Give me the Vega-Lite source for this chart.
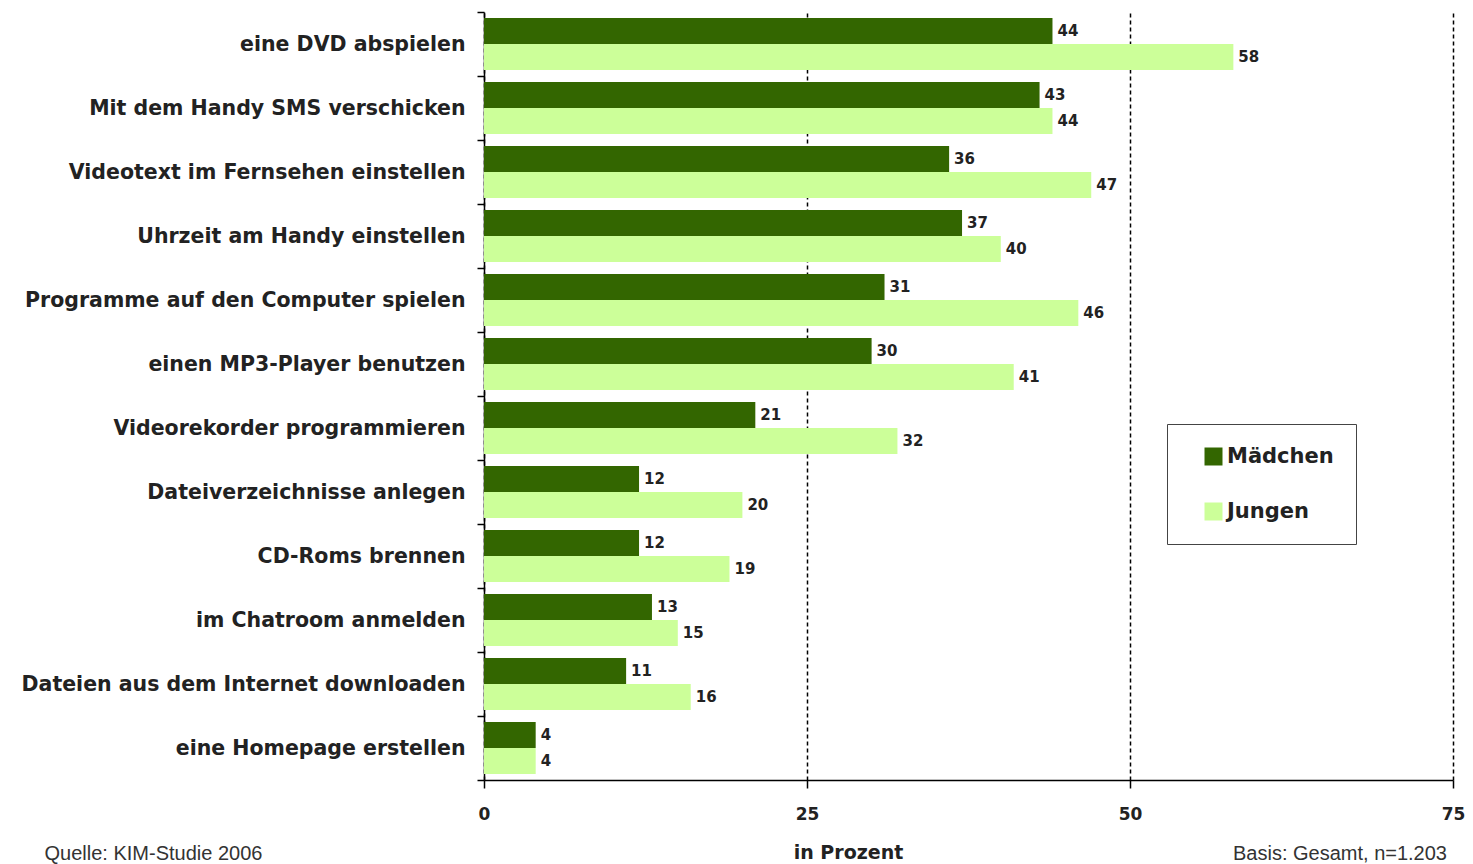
{
  "$schema": "https://vega.github.io/schema/vega-lite/v6.json",
  "width": 969,
  "height": 768,
  "autosize": {"type": "none"},
  "padding": {"left": 484, "top": 12, "right": 20, "bottom": 84},
  "background": "white",
  "title": {"text": "Basis: Gesamt, n=1.203", "orient": "bottom", "anchor": "end", "frame": "group", "font": "Liberation Sans", "fontSize": 20, "fontWeight": "normal", "color": "#333", "offset": 0, "dy": -19, "dx": -6},
  "data": {"values": [
    {"task": "eine DVD abspielen", "gender": "Mädchen", "value": 44},
    {"task": "eine DVD abspielen", "gender": "Jungen", "value": 58},
    {"task": "Mit dem Handy SMS verschicken", "gender": "Mädchen", "value": 43},
    {"task": "Mit dem Handy SMS verschicken", "gender": "Jungen", "value": 44},
    {"task": "Videotext im Fernsehen einstellen", "gender": "Mädchen", "value": 36},
    {"task": "Videotext im Fernsehen einstellen", "gender": "Jungen", "value": 47},
    {"task": "Uhrzeit am Handy einstellen", "gender": "Mädchen", "value": 37},
    {"task": "Uhrzeit am Handy einstellen", "gender": "Jungen", "value": 40},
    {"task": "Programme auf den Computer spielen", "gender": "Mädchen", "value": 31},
    {"task": "Programme auf den Computer spielen", "gender": "Jungen", "value": 46},
    {"task": "einen MP3-Player benutzen", "gender": "Mädchen", "value": 30},
    {"task": "einen MP3-Player benutzen", "gender": "Jungen", "value": 41},
    {"task": "Videorekorder programmieren", "gender": "Mädchen", "value": 21},
    {"task": "Videorekorder programmieren", "gender": "Jungen", "value": 32},
    {"task": "Dateiverzeichnisse anlegen", "gender": "Mädchen", "value": 12},
    {"task": "Dateiverzeichnisse anlegen", "gender": "Jungen", "value": 20},
    {"task": "CD-Roms brennen", "gender": "Mädchen", "value": 12},
    {"task": "CD-Roms brennen", "gender": "Jungen", "value": 19},
    {"task": "im Chatroom anmelden", "gender": "Mädchen", "value": 13},
    {"task": "im Chatroom anmelden", "gender": "Jungen", "value": 15},
    {"task": "Dateien aus dem Internet downloaden", "gender": "Mädchen", "value": 11},
    {"task": "Dateien aus dem Internet downloaden", "gender": "Jungen", "value": 16},
    {"task": "eine Homepage erstellen", "gender": "Mädchen", "value": 4},
    {"task": "eine Homepage erstellen", "gender": "Jungen", "value": 4}
  ]},
  "encoding": {
    "y": {
      "field": "task", "type": "nominal", "sort": null,
      "scale": {"paddingInner": 0, "paddingOuter": 0},
      "axis": {
        "title": "Quelle: KIM-Studie 2006", "titleAngle": 0, "titleX": -440, "titleY": 841,
        "titleAlign": "left", "titleBaseline": "middle", "titleFont": "Liberation Sans",
        "titleFontSize": 20, "titleFontWeight": "normal", "titleColor": "#333",
        "tickBand": "extent", "tickSize": 7, "tickColor": "black", "tickWidth": 1.5,
        "domainColor": "black", "domainWidth": 1.5,
        "labelFont": "DejaVu Sans", "labelFontSize": 20.5, "labelFontWeight": "bold",
        "labelColor": "#222", "labelPadding": 12, "labelLimit": 500
      }
    },
    "yOffset": {"field": "gender", "type": "nominal", "sort": ["Mädchen", "Jungen"], "scale": {"paddingInner": 0, "paddingOuter": 0.23}},
    "x": {
      "field": "value", "type": "quantitative",
      "scale": {"domain": [0, 75], "nice": false},
      "axis": {
        "values": [0, 25, 50, 75], "grid": true, "gridDash": [4, 3], "gridColor": "black", "gridWidth": 1.5, "gridOpacity": 1,
        "domainColor": "black", "domainWidth": 1.5, "tickColor": "black", "tickSize": 8, "tickWidth": 1.5,
        "labelFont": "DejaVu Sans", "labelFontSize": 17, "labelFontWeight": "bold", "labelColor": "#222",
        "labelPadding": 18, "labelFlush": false,
        "title": "in Prozent", "titleFont": "DejaVu Sans", "titleFontSize": 19, "titleFontWeight": "bold",
        "titleColor": "#222", "titleX": 364, "titleY": 72, "titleAlign": "center", "titleBaseline": "middle"
      }
    }
  },
  "layer": [
    {
      "mark": {"type": "bar"},
      "encoding": {
        "color": {
          "field": "gender", "type": "nominal",
          "scale": {"domain": ["Mädchen", "Jungen"], "range": ["#336600", "#ccff99"]},
          "legend": {
            "orient": "none", "legendX": 683, "legendY": 412, "title": null,
            "symbolType": "square", "symbolSize": 324, "symbolStrokeWidth": 0,
            "labelFont": "DejaVu Sans", "labelFontSize": 21, "labelFontWeight": "bold", "labelColor": "#222",
            "padding": 22, "symbolOffset": 14, "rowPadding": 33, "labelOffset": 3,
            "strokeColor": "#444", "fillColor": "white"
          }
        }
      }
    },
    {
      "mark": {"type": "text", "align": "left", "baseline": "middle", "dx": 5, "font": "DejaVu Sans", "fontSize": 15, "fontWeight": "bold", "color": "#222"},
      "encoding": {"text": {"field": "value", "type": "quantitative"}}
    }
  ],
  "config": {"view": {"stroke": null}, "font": "Liberation Sans"}
}
